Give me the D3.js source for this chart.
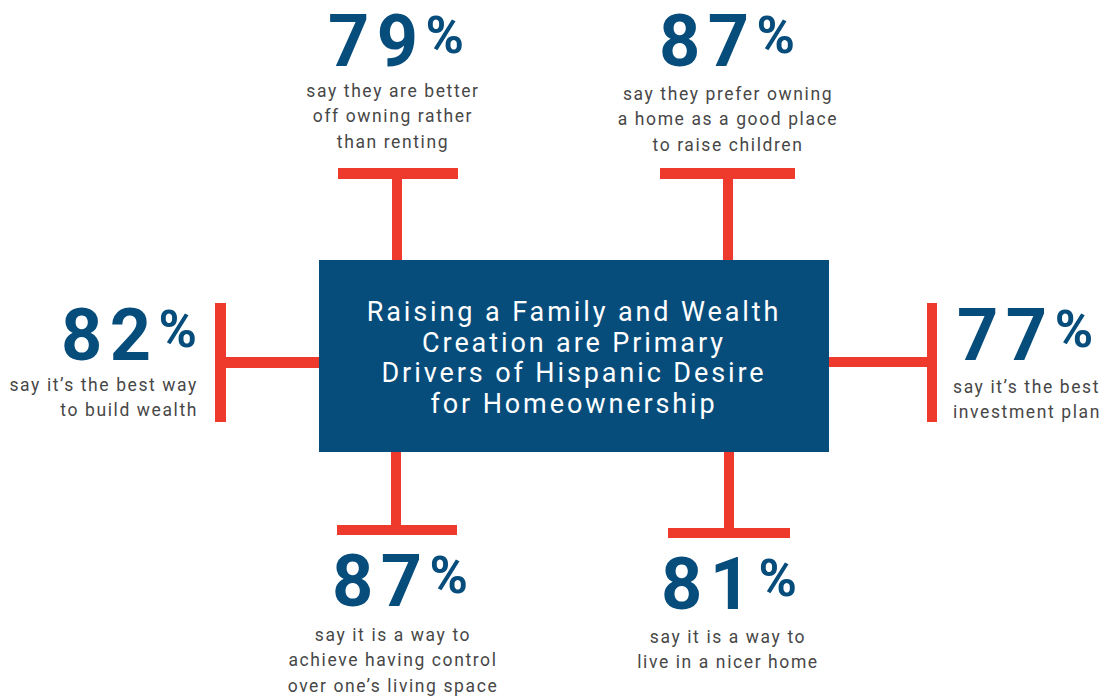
<!DOCTYPE html>
<html><head><meta charset="utf-8">
<script src="https://cdn.jsdelivr.net/npm/d3@7"></script>
<style>
html,body{margin:0;padding:0;background:#fff;}
svg{display:block;}
</style></head>
<body>
<svg id="chart" width="1100" height="696"></svg>
<script>
// ---- data ----
const titleLines = ["Raising a Family and Wealth", "Creation are Primary", "Drivers of Hispanic Desire", "for Homeownership"];
const slots = ["topLeft", "topRight", "left", "right", "bottomLeft", "bottomRight"];
const values = [79, 87, 82, 77, 87, 81];
const captions = [
  ["say they are better", "off owning rather", "than renting"],
  ["say they prefer owning", "a home as a good place", "to raise children"],
  ["say it\u2019s the best way", "to build wealth"],
  ["say it\u2019s the best", "investment plan"],
  ["say it is a way to", "achieve having control", "over one\u2019s living space"],
  ["say it is a way to", "live in a nicer home"]
];

// ---- layout (positions / styles) ----
const BLUE = "#074d7c", RED = "#ee3a2d", GREY = "#474747";
const box = {x0: 319, x1: 829, y0: 260, y1: 452};
const layout = {
  topLeft:     {cx: 397, bar: [338, 458], barY: 168, numY: 66, numX: 396, anchor: "middle", capX: 393, capY: 97},
  topRight:    {cx: 728, bar: [660, 795], barY: 168, numY: 66, numX: 727, anchor: "middle", capX: 728, capY: 100},
  left:        {cy: 362, barX: 215, bar: [303, 422], numX: 197, numY: 360, anchor: "end", capX: 198, capY: 391},
  right:       {cy: 362, barX: 927, bar: [303, 422], numX: 957, numY: 360, anchor: "start", capX: 953, capY: 393},
  bottomLeft:  {cx: 396, bar: [337, 457], barY: 525, numY: 606, numX: 400, anchor: "middle", capX: 393, capY: 641},
  bottomRight: {cx: 729, bar: [668, 790], barY: 528, numY: 609, numX: 729, anchor: "middle", capX: 728, capY: 643}
};
const T = 10; // line thickness

const svg = d3.select("#chart");

// connectors
const g = svg.append("g");
slots.forEach((s, i) => {
  const L = layout[s];
  if (s === "topLeft" || s === "topRight") {
    g.append("rect").attr("x", L.cx - T/2).attr("y", L.barY).attr("width", T).attr("height", box.y0 - L.barY).attr("fill", RED);
    g.append("rect").attr("x", L.bar[0]).attr("y", L.barY).attr("width", L.bar[1]-L.bar[0]).attr("height", T+1).attr("fill", RED);
  } else if (s === "bottomLeft" || s === "bottomRight") {
    g.append("rect").attr("x", L.cx - T/2).attr("y", box.y1).attr("width", T).attr("height", L.barY - box.y1).attr("fill", RED);
    g.append("rect").attr("x", L.bar[0]).attr("y", L.barY).attr("width", L.bar[1]-L.bar[0]).attr("height", T).attr("fill", RED);
  } else if (s === "left") {
    g.append("rect").attr("x", L.barX).attr("y", L.bar[0]).attr("width", T+1).attr("height", L.bar[1]-L.bar[0]).attr("fill", RED);
    g.append("rect").attr("x", L.barX).attr("y", L.cy - T/2).attr("width", box.x0 - L.barX).attr("height", T+1).attr("fill", RED);
  } else {
    g.append("rect").attr("x", L.barX).attr("y", L.bar[0]).attr("width", T).attr("height", L.bar[1]-L.bar[0]).attr("fill", RED);
    g.append("rect").attr("x", box.x1).attr("y", L.cy - T/2).attr("width", L.barX - box.x1).attr("height", T).attr("fill", RED);
  }
});

// central box
svg.append("rect").attr("x", box.x0).attr("y", box.y0).attr("width", box.x1-box.x0).attr("height", box.y1-box.y0).attr("fill", BLUE);
svg.append("text")
  .attr("x", (box.x0+box.x1)/2).attr("y", 321)
  .attr("text-anchor", "middle")
  .attr("font-family", "Roboto, sans-serif").attr("font-size", 27).attr("font-weight", 400)
  .attr("letter-spacing", 2.9).attr("fill", "#fff")
  .selectAll("tspan").data(titleLines).join("tspan")
  .attr("x", (box.x0+box.x1)/2).attr("dy", (d, i) => i === 0 ? 0 : 30.7)
  .text(d => d);

// numbers + captions
slots.forEach((s, i) => {
  const L = layout[s];
  const t = svg.append("text").attr("x", L.numX).attr("y", L.numY)
    .attr("text-anchor", L.anchor).attr("fill", BLUE)
    .attr("font-family", "Roboto, sans-serif").attr("font-weight", 700);
  t.append("tspan").attr("font-size", 72).attr("letter-spacing", 7.5).text(values[i]);
  t.append("tspan").attr("font-size", 52).attr("dy", -13).text("%");

  svg.append("text").attr("x", L.capX).attr("y", L.capY)
    .attr("text-anchor", L.anchor).attr("fill", GREY)
    .attr("font-family", "Roboto, sans-serif").attr("font-size", 17.5).attr("letter-spacing", 1.6)
    .selectAll("tspan").data(captions[i]).join("tspan")
    .attr("x", L.capX).attr("dy", (d, j) => j === 0 ? 0 : 25.3)
    .text(d => d);
});
</script>
</body></html>
